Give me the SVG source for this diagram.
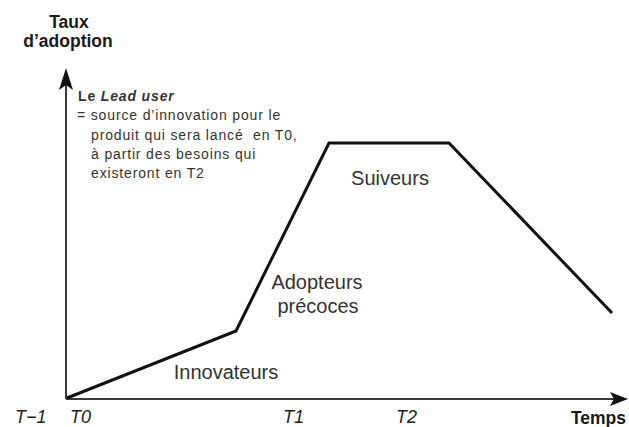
<svg xmlns="http://www.w3.org/2000/svg" width="629" height="427" viewBox="0 0 629 427">
  <defs>
    <style>
      .axis { stroke: #3a3a3a; stroke-width: 2; fill: none; }
      .head { fill: #111; }
      .curve { stroke: #111; stroke-width: 3; fill: none; stroke-linejoin: miter; }
      .axis-title { font-family: "Liberation Sans", Arial, sans-serif; font-weight: bold; font-size: 17.5px; fill: #1a1a1a; }
      .tick { font-family: "Liberation Sans", Arial, sans-serif; font-style: italic; font-size: 18px; fill: #222; }
      .phase { font-family: "Liberation Sans", Arial, sans-serif; font-size: 20px; fill: #333; }
      .note { font-family: "Liberation Sans", Arial, sans-serif; font-size: 14px; letter-spacing: 0.85px; fill: #333; }
    </style>
  </defs>

  <rect width="629" height="427" fill="#ffffff"/>

  <!-- axes -->
  <g id="axes">
    <line class="axis" x1="66" y1="399" x2="66" y2="80"/>
    <polygon class="head" points="66,68 59,90 66,85 73,90"/>
    <line class="axis" x1="66" y1="399" x2="616" y2="399"/>
    <polygon class="head" points="628,399 610,392 614,399 610,406"/>
  </g>

  <!-- adoption curve -->
  <g id="connectors">
    <polyline class="curve" points="67,398 236,331 329,143 449,143 612,313"/>
  </g>

  <!-- axis titles -->
  <g id="y-title">
    <text class="axis-title" x="69" y="28" text-anchor="middle">Taux</text>
    <text class="axis-title" x="68" y="47" text-anchor="middle">d’adoption</text>
  </g>
  <g id="x-title">
    <text class="axis-title" x="626" y="424" text-anchor="end" font-size="16.5">Temps</text>
  </g>

  <!-- time marks -->
  <g id="ticks">
    <text class="tick" x="15" y="423">T−1</text>
    <text class="tick" x="70" y="423">T0</text>
    <text class="tick" x="283" y="423">T1</text>
    <text class="tick" x="396" y="423">T2</text>
  </g>

  <!-- lead user note -->
  <g id="lead-user">
    <text class="note" x="78" y="101" font-weight="bold">Le <tspan font-style="italic">Lead user</tspan></text>
    <text class="note" x="77" y="120">= source d’innovation pour le</text>
    <text class="note" x="91" y="139.5">produit qui sera lancé&#160; en T0,</text>
    <text class="note" x="91" y="158.5">à partir des besoins qui</text>
    <text class="note" x="91" y="177.5">existeront en T2</text>
  </g>

  <!-- adopter phases -->
  <g id="innovateurs">
    <text class="phase" x="226" y="379" text-anchor="middle">Innovateurs</text>
  </g>
  <g id="adopteurs-precoces">
    <text class="phase" x="317" y="289" text-anchor="middle">Adopteurs</text>
    <text class="phase" x="318" y="313" text-anchor="middle">précoces</text>
  </g>
  <g id="suiveurs">
    <text class="phase" x="390" y="185" text-anchor="middle">Suiveurs</text>
  </g>
</svg>
